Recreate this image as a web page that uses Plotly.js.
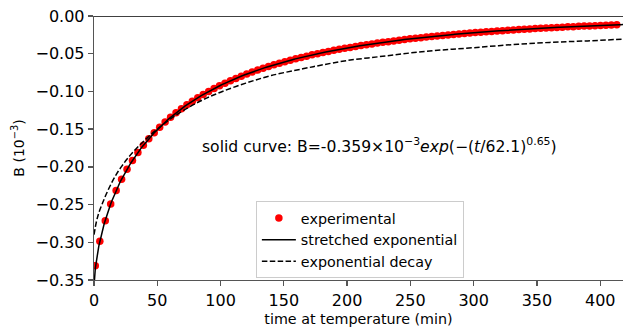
<!DOCTYPE html>
<html>
<head>
<meta charset="utf-8">
<script src="https://cdn.plot.ly/plotly-3.0.1.min.js"></script>
<style>
  html, body { margin: 0; padding: 0; background: #ffffff; }
  #chart { width: 623px; height: 332px; }
</style>
</head>
<body>
<div id="chart"></div>
<script>
// Measured relaxation of B during the anneal (time in minutes, B in units of 1e-3)
const timeMin = [
  1.0, 4.6, 8.9, 13.2, 17.5, 21.8, 26.1, 30.4, 34.7, 39.0, 43.3, 47.6, 51.9, 56.2,
  60.5, 64.8, 69.1, 73.4, 77.7, 82.0, 86.3, 90.6, 94.9, 99.2, 103.5, 107.8, 112.1,
  116.4, 120.7, 125.0, 129.3, 133.6, 137.9, 142.2, 146.5, 150.8, 155.1, 159.4, 163.7,
  168.0, 172.3, 176.6, 180.9, 185.2, 189.5, 193.8, 198.1, 202.4, 206.7, 211.0, 215.3,
  219.6, 223.9, 228.2, 232.5, 236.8, 241.1, 245.4, 249.7, 254.0, 258.3, 262.6, 266.9,
  271.2, 275.5, 279.8, 284.1, 288.4, 292.7, 297.0, 301.3, 305.6, 309.9, 314.2, 318.5,
  322.8, 327.1, 331.4, 335.7, 340.0, 344.3, 348.6, 352.9, 357.2, 361.5, 365.8, 370.1,
  374.4, 378.7, 383.0, 387.3, 391.6, 395.9, 400.2, 404.5, 408.8, 413.1
];
const measuredB = [
  -0.3310, -0.2986, -0.2715, -0.2491, -0.2314, -0.2164, -0.2032, -0.1915, -0.1810,
  -0.1715, -0.1627, -0.1548, -0.1474, -0.1406, -0.1343, -0.1284, -0.1229, -0.1178,
  -0.1129, -0.1083, -0.1040, -0.1000, -0.0962, -0.0925, -0.0891, -0.0858, -0.0827,
  -0.0798, -0.0769, -0.0743, -0.0717, -0.0693, -0.0670, -0.0647, -0.0626, -0.0605,
  -0.0586, -0.0567, -0.0549, -0.0532, -0.0515, -0.0499, -0.0484, -0.0469, -0.0455,
  -0.0442, -0.0429, -0.0416, -0.0404, -0.0392, -0.0381, -0.0370, -0.0359, -0.0349,
  -0.0340, -0.0330, -0.0321, -0.0312, -0.0303, -0.0295, -0.0287, -0.0279, -0.0272,
  -0.0265, -0.0258, -0.0251, -0.0244, -0.0238, -0.0232, -0.0226, -0.0220, -0.0215,
  -0.0209, -0.0204, -0.0199, -0.0194, -0.0189, -0.0184, -0.0180, -0.0175, -0.0171,
  -0.0167, -0.0163, -0.0159, -0.0155, -0.0151, -0.0148, -0.0144, -0.0141, -0.0137,
  -0.0134, -0.0131, -0.0128, -0.0125, -0.0122, -0.0119, -0.0117
];

// Simple exponential decay model, sampled
const decayTime = [0, 2, 4, 7, 10, 14, 18, 22, 26, 30, 35, 40, 45, 50, 60, 70, 85,
  100, 120, 140, 165, 180, 200, 225, 250, 275, 300, 330, 360, 390, 420];
const decayB = [-0.290, -0.272, -0.260, -0.247, -0.235, -0.221, -0.209, -0.199,
  -0.190, -0.182, -0.173, -0.165, -0.157, -0.150, -0.137, -0.126, -0.112, -0.101,
  -0.089, -0.079, -0.070, -0.065, -0.059, -0.054, -0.049, -0.045, -0.042, -0.038,
  -0.035, -0.033, -0.0305];

// Stretched-exponential fit parameters: B = A exp(-(t/tau)^beta)
const fitAmplitude = -0.359;
const fitTau = 62.1;
const fitBeta = 0.65;

const xTicks = [0, 50, 100, 150, 200, 250, 300, 350, 400];

const fitTime = [];
const fitB = [];
for (let t = 0; t <= 420; t += (t < 10 ? 0.1 : 1)) {
  const tt = Math.round(t * 10) / 10;
  fitTime.push(tt);
  fitB.push(fitAmplitude * Math.exp(-Math.pow(tt / fitTau, fitBeta)));
}

const FONT = 'DejaVu Sans, sans-serif';
const spine = '#555555';

const traces = [
  {
    x: timeMin, y: measuredB, name: 'experimental', type: 'scatter', mode: 'markers',
    marker: { color: '#ff0000', size: 7.5, line: { width: 0 } }
  },
  {
    x: fitTime, y: fitB, name: 'stretched exponential', type: 'scatter', mode: 'lines',
    line: { color: '#000000', width: 1.5 }
  },
  {
    x: decayTime, y: decayB, name: 'exponential decay', type: 'scatter', mode: 'lines',
    line: { color: '#000000', width: 1.5, dash: '5.5px,2.4px', shape: 'spline' }
  }
];

const axisCommon = {
  showgrid: false, zeroline: false, showline: true, linecolor: spine, linewidth: 1.3,
  ticks: 'outside', ticklen: 5, tickwidth: 1.3, tickcolor: spine,
  tickfont: { family: FONT, size: 16, color: '#000' }
};

const layout = {
  width: 623, height: 332,
  margin: { l: 94, r: 0, t: 16, b: 52 },
  paper_bgcolor: '#ffffff', plot_bgcolor: '#ffffff',
  font: { family: FONT, size: 14, color: '#000' },
  showlegend: true,
  legend: {
    x: 0.306, y: 0.298, xanchor: 'left', yanchor: 'top',
    bgcolor: 'rgba(255,255,255,0.8)', bordercolor: '#cccccc', borderwidth: 1,
    font: { family: FONT, size: 14.3, color: '#000' }, itemwidth: 34,
    tracegroupgap: 0
  },
  xaxis: Object.assign({}, axisCommon, {
    range: [0, 418], tickvals: xTicks, ticktext: xTicks.map(String),
    title: { text: 'time at temperature (min)', font: { family: FONT, size: 14.3 }, standoff: 5 }
  }),
  yaxis: Object.assign({}, axisCommon, {
    range: [-0.35, 0], dtick: 0.05, tick0: 0, tickformat: '.2f',
    title: { text: 'B (10<sup>−3</sup>)', font: { family: FONT, size: 14 }, standoff: 7 }
  }),
  shapes: [
    { type: 'line', xref: 'paper', yref: 'y', x0: 0, x1: 1, y0: 0, y1: 0,
      line: { color: '#000000', width: 1.3 } }
  ],
  annotations: [
    {
      xref: 'x', yref: 'y', x: 84, y: -0.172, xanchor: 'left', yanchor: 'middle',
      showarrow: false, font: { family: FONT, size: 15.6, color: '#000' },
      text: 'solid curve: B=-0.359×10<sup>−3</sup><i>exp</i>(−(<i>t</i>/62.1)<sup>0.65</sup>)'
    }
  ]
};

Plotly.newPlot('chart', traces, layout, { staticPlot: true, displayModeBar: false });
</script>
</body>
</html>
